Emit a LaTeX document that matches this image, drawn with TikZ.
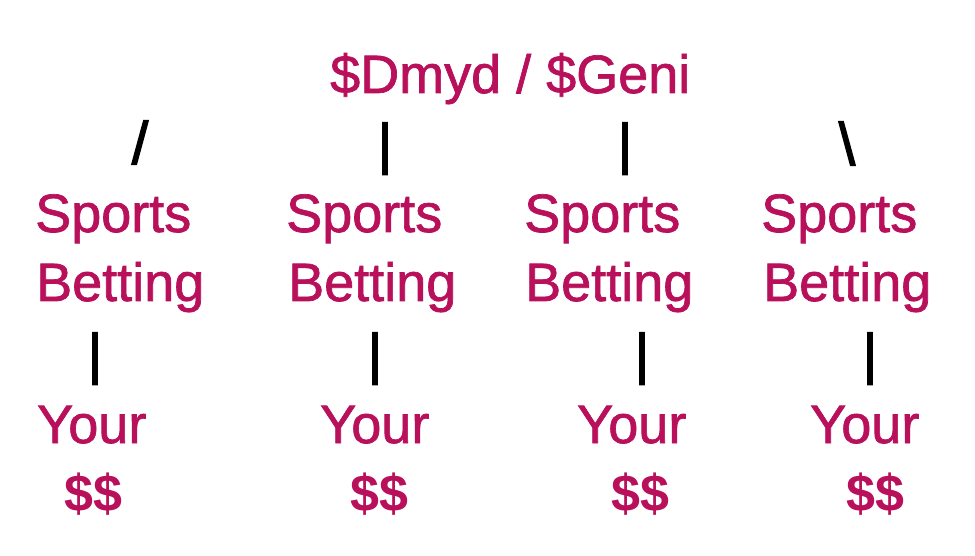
\documentclass[tikz,border=0pt]{standalone}
\usepackage{fontspec}
\setmainfont{Liberation Sans}
\newfontfamily\medfont[FakeBold=1.3]{Liberation Sans}
\newfontfamily\barfont[FakeBold=2]{Liberation Sans}
\definecolor{txtred}{HTML}{B8105A}
\tikzset{
  lbl/.style={anchor=base west, inner sep=0pt, text=txtred, font=\medfont\fontsize{54}{54}\selectfont},
  money/.style={anchor=base west, inner sep=0pt, text=txtred, font=\fontsize{52}{52}\selectfont\bfseries},
  bar/.style={anchor=base, inner sep=0pt, text=black, font=\barfont\fontsize{56}{56}\selectfont},
  slash/.style={anchor=base, inner sep=0pt, text=black, font=\barfont\fontsize{60}{60}\selectfont}
}
\begin{document}
\begin{tikzpicture}[x=1pt,y=-1pt]
\useasboundingbox[fill=white] (0,0) rectangle (975,556);
\node[lbl] (top) at (330,93) {\$Dmyd / \$Geni};
% top connectors
\node[slash] (c1) at (140,164) {/};
\node[bar] (c2) at (385,163) {|};
\node[bar] (c3) at (625,163) {|};
\node[slash] (c4) at (847,165) {\textbackslash};
% Sports Betting
\node[lbl] (s1) at (35,232) {Sports};
\node[lbl] (b1) at (36,301) {Betting};
\node[lbl] (s2) at (286,232) {Sports};
\node[lbl] (b2) at (288,301) {Betting};
\node[lbl] (s3) at (524,232) {Sports};
\node[lbl] (b3) at (525,301) {Betting};
\node[lbl] (s4) at (761,232) {Sports};
\node[lbl] (b4) at (763,301) {Betting};
% lower connectors
\node[bar] (d1) at (95,373) {|};
\node[bar] (d2) at (375,373) {|};
\node[bar] (d3) at (642,373) {|};
\node[bar] (d4) at (870,373) {|};
% Your $$
\node[lbl] (y1) at (37,443) {Your};
\node[lbl] (y2) at (320,443) {Your};
\node[lbl] (y3) at (577,443) {Your};
\node[lbl] (y4) at (810,443) {Your};
\node[money] (m1) at (64,511) {\$\$};
\node[money] (m2) at (350,511) {\$\$};
\node[money] (m3) at (611,511) {\$\$};
\node[money] (m4) at (846,511) {\$\$};
\end{tikzpicture}
\end{document}
